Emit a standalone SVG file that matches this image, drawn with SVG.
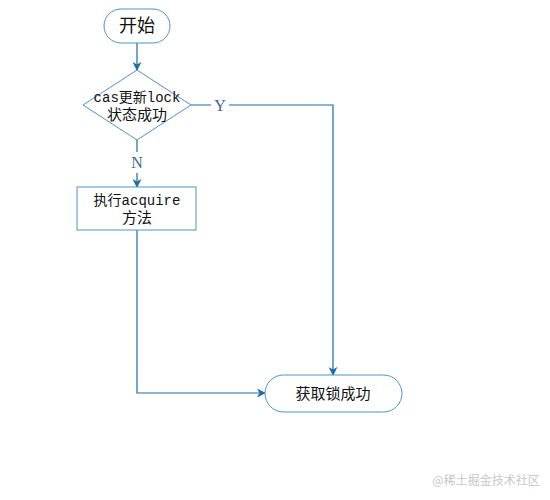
<svg xmlns="http://www.w3.org/2000/svg" width="550" height="500" viewBox="0 0 550 500">
<style>
.node{fill:#fff;stroke:#4f93c4;stroke-width:1}
.t{font-family:"Liberation Mono","Noto Sans CJK SC",monospace;font-size:14px;fill:#111;text-anchor:middle}
.lbl{font-family:"Liberation Serif","Noto Sans CJK SC",serif;font-size:16px;fill:#3c6a92;text-anchor:middle}
.edge{fill:none;stroke:#1f6ba3;stroke-width:1.2}
</style>
<defs>
<marker id="ah" viewBox="0 0 10 10" refX="9" refY="5" markerWidth="9" markerHeight="9" markerUnits="userSpaceOnUse" orient="auto">
<path d="M0,0 L10,5 L0,10 L3,5 z" fill="#1f6ba3"/>
</marker>
</defs>
<rect width="550" height="500" fill="#fff"/>
<g id="connectors">
<line class="edge" x1="137" y1="43" x2="137" y2="70" marker-end="url(#ah)"/>
<path class="edge" d="M191,105 H211 M229,105 H333 V375" marker-end="url(#ah)"/>
<path class="edge" d="M137,140 V152 M137,173 V187" marker-end="url(#ah)"/>
<path class="edge" d="M137,230 V393 H265" marker-end="url(#ah)"/>
<text class="lbl" x="220" y="111">Y</text>
<text class="lbl" x="137" y="168">N</text>
</g>
<g id="start">
<rect class="node" x="104" y="9" width="66" height="34" rx="17"/>
<text class="t" x="137" y="32" style="font-size:18px">开始</text>
</g>
<g id="decision">
<polygon class="node" points="137,70 191,105 137,140 83,105"/>
<text class="t" x="137" y="102" style="font-size:14px">cas更新lock</text>
<text class="t" x="137" y="120" style="font-size:15px">状态成功</text>
</g>
<g id="acquire">
<rect class="node" x="77" y="187" width="119" height="43"/>
<text class="t" x="137" y="205" style="font-size:14px">执行acquire</text>
<text class="t" x="137" y="223" style="font-size:15px">方法</text>
</g>
<g id="success">
<rect class="node" x="265" y="375" width="137" height="37" rx="18.5"/>
<text class="t" x="333" y="399" style="font-size:15px">获取锁成功</text>
</g>
<text x="486" y="485" style="font-family:'Noto Sans CJK SC',sans-serif;font-size:12px;fill:#c8c8c8;text-anchor:middle">@稀土掘金技术社区</text>
</svg>
